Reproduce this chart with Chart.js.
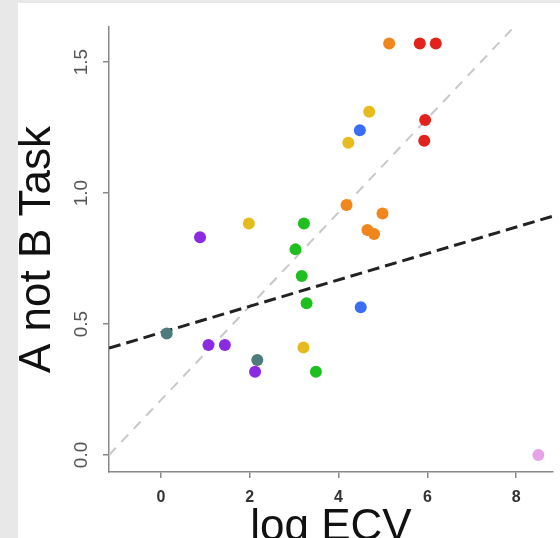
<!DOCTYPE html>
<html lang="en">
<head>
<meta charset="UTF-8">
<title>A not B Task vs log ECV</title>
<script src="https://cdn.jsdelivr.net/npm/chart.js"></script>
<style>
    body { margin: 0; background: #e8e8e8; overflow: hidden; width: 560px; height: 538px; }
    #card { position: absolute; left: 18px; top: 3px; width: 542px; height: 547px; background: #fff; }
</style>
</head>
<body>
<div id="card"><canvas id="chart" width="542" height="547"></canvas></div>
<script>
    // data (x = log ECV, y = A not B Task)
    const purpleX = [0.88, 1.07, 1.44, 2.12];
    const purpleY = [0.831, 0.42, 0.42, 0.318];
    const goldX = [1.98, 3.21, 4.22, 4.69];
    const goldY = [0.884, 0.41, 1.192, 1.31];
    const slateX = [0.13, 2.17];
    const slateY = [0.464, 0.363];
    const greenX = [3.22, 3.03, 3.17, 3.28, 3.49];
    const greenY = [0.884, 0.785, 0.683, 0.579, 0.318];
    const blueX = [4.48, 4.5];
    const blueY = [1.24, 0.564];
    const orangeX = [5.14, 4.18, 4.99, 4.65, 4.8];
    const orangeY = [1.571, 0.954, 0.922, 0.859, 0.844];
    const redX = [5.83, 6.19, 5.95, 5.93];
    const redY = [1.571, 1.571, 1.279, 1.2];
    const pinkX = [8.5];
    const pinkY = [0.0];

    // reference line (light grey) and fitted line (black)
    const refLineX = [-1.17, 7.9];
    const refLineY = [0.0, 1.625];
    const fitLineX = [-1.17, 8.83];
    const fitLineY = [0.408, 0.912];

    const xTickValues = [0, 2, 4, 6, 8];
    const yTickValues = [0, 0.5, 1, 1.5];

    const toPts = (xs, ys) => xs.map((x, i) => ({ x: x, y: ys[i] }));

    const groups = [
        [purpleX, purpleY, '#8a2be2'],
        [goldX, goldY, '#e6bb1e'],
        [slateX, slateY, '#4e7b7c'],
        [greenX, greenY, '#1fbf1f'],
        [blueX, blueY, '#3b6cf2'],
        [orangeX, orangeY, '#f0861c'],
        [redX, redY, '#e2221c'],
        [pinkX, pinkY, '#e6a3e6']
    ];

    const datasets = groups.map(g => ({
        type: 'scatter',
        data: toPts(g[0], g[1]),
        backgroundColor: g[2],
        borderColor: g[2],
        pointRadius: 6,
        borderWidth: 0,
        order: 1
    }));

    datasets.push({
        type: 'line',
        data: toPts(refLineX, refLineY),
        borderColor: '#c8c8c8',
        borderWidth: 2,
        borderDash: [10, 8],
        pointRadius: 0,
        fill: false,
        order: 3
    });
    datasets.push({
        type: 'line',
        data: toPts(fitLineX, fitLineY),
        borderColor: '#222',
        borderWidth: 3,
        borderDash: [12, 6],
        pointRadius: 0,
        fill: false,
        order: 2
    });

    const axisColor = '#888';

    new Chart(document.getElementById('chart'), {
        type: 'scatter',
        data: { datasets: datasets },
        options: {
            responsive: false,
            animation: false,
            layout: { padding: { top: 24, right: 7, left: 0, bottom: 0 } },
            plugins: { legend: { display: false }, tooltip: { enabled: false } },
            scales: {
                x: {
                    type: 'linear',
                    min: -1.17,
                    max: 8.83,
                    afterBuildTicks: s => { s.ticks = xTickValues.map(v => ({ value: v })); },
                    afterFit: s => { s.height = 78; },
                    grid: { drawOnChartArea: false, drawTicks: true, tickLength: 6, color: axisColor, lineWidth: 1.5 },
                    border: { display: true, color: axisColor, width: 1.5 },
                    ticks: {
                        padding: 10,
                        color: '#333',
                        font: { family: 'Liberation Sans, Arial, sans-serif', size: 16, weight: 'bold' },
                        callback: v => String(v)
                    },
                    title: {
                        display: true,
                        text: 'log ECV',
                        color: '#111',
                        padding: 0,
                        font: { family: 'Liberation Sans, Arial, sans-serif', size: 44, lineHeight: 1 }
                    }
                },
                y: {
                    type: 'linear',
                    min: -0.065,
                    max: 1.634,
                    afterBuildTicks: s => { s.ticks = yTickValues.map(v => ({ value: v })); },
                    afterFit: s => { s.width = 91; },
                    grid: { drawOnChartArea: false, drawTicks: true, tickLength: 6, color: axisColor, lineWidth: 1.5 },
                    border: { display: true, color: axisColor, width: 1.5 },
                    ticks: {
                        padding: 8,
                        minRotation: 90,
                        maxRotation: 90,
                        crossAlign: 'center',
                        color: '#555',
                        font: { family: 'Liberation Sans, Arial, sans-serif', size: 19 },
                        callback: v => Number(v).toFixed(1)
                    },
                    title: {
                        display: true,
                        text: 'A not B Task',
                        color: '#111',
                        padding: 0,
                        font: { family: 'Liberation Sans, Arial, sans-serif', size: 44, lineHeight: 0.9 }
                    }
                }
            }
        }
    });
</script>
</body>
</html>
